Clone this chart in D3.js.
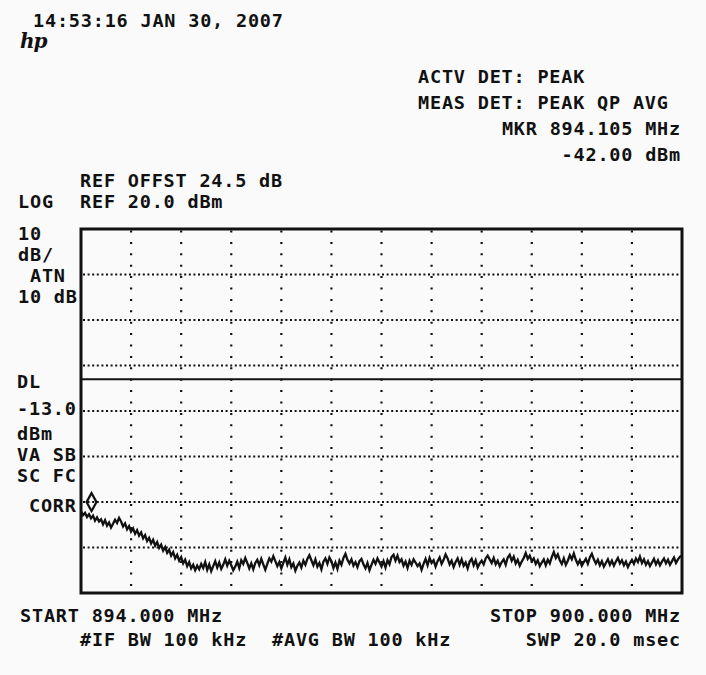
<!DOCTYPE html>
<html>
<head>
<meta charset="utf-8">
<script src="https://cdn.jsdelivr.net/npm/d3@7"></script>
<style>
  body { margin: 0; background: #fafafa; }
  svg text { font-family: "DejaVu Sans Mono", monospace; font-weight: bold; font-size: 18.5px; letter-spacing: 0.8px; fill: #111; }
</style>
</head>
<body>
<svg id="chart" width="706" height="675"></svg>
<script>
// sweep settings
const startFreq = 894.0;   // MHz
const stopFreq = 900.0;    // MHz
const refLevel = 20.0;     // dBm, top of graticule
const dbPerDiv = 10;
const displayLine = -13.0; // dBm
const markerFreq = 894.105;
const markerLevel = -42.0;

// trace, one value every 0.02 MHz
const traceDbm = [
  -42.0, -42.9, -42.4, -43.3, -42.7, -43.6, -43.0, -44.1, -43.4, -44.3,
  -43.8, -44.9, -44.0, -45.2, -44.5, -45.6, -44.8, -43.9, -44.6, -43.5,
  -44.3, -45.4, -44.7, -46.0, -45.3, -46.5, -45.8, -47.0, -46.2, -47.4,
  -46.7, -48.0, -47.3, -48.6, -47.9, -49.1, -48.3, -49.6, -48.8, -50.1,
  -49.4, -50.7, -49.9, -51.2, -50.5, -51.8, -51.0, -52.4, -51.6, -52.9,
  -52.1, -53.5, -52.7, -54.1, -53.2, -54.6, -53.8, -55.0, -54.0, -54.8,
  -53.6,
  -54.5, -53.2, -54.9, -53.7, -55.2, -54.1, -53.0, -54.4, -53.3, -54.7,
  -53.8, -52.6, -54.0, -52.9, -53.9, -55.0, -54.2, -53.1, -54.5, -52.8,
  -53.6, -52.3, -53.4, -54.6, -53.5, -54.8, -53.4, -52.7, -53.9, -52.5,
  -53.7, -54.9, -53.6, -52.4, -53.1, -51.9, -53.0, -54.1, -53.2, -54.6,
  -53.4, -52.2, -53.8, -52.6, -54.3, -53.5, -55.1, -54.0, -53.3, -54.4,
  -52.9, -53.8, -52.5, -51.7, -52.8, -53.9, -52.6, -54.2, -53.4, -54.8,
  -53.1, -52.4, -53.6, -52.2, -53.0, -54.5, -53.3, -54.7, -52.9, -53.8,
  -52.3, -51.4, -52.7, -53.5, -52.6, -54.0, -53.2, -54.3, -53.0, -52.5,
  -53.7, -54.6, -53.4, -55.0, -53.8, -52.7, -53.6, -52.4, -53.3, -54.2,
  -53.0, -54.4, -52.8, -53.7, -52.1, -51.6, -52.9, -51.8, -53.2, -52.6,
  -54.0, -53.1, -54.5, -52.9, -53.8, -52.6, -53.3, -54.1, -53.5, -54.9,
  -53.6, -52.5, -53.9, -52.3, -53.4, -52.8, -54.2, -53.0, -52.2, -53.6,
  -52.7, -51.5, -52.4, -53.7, -52.9, -54.3, -53.2, -52.4, -53.8, -52.6,
  -54.0, -53.3, -54.6, -53.1, -52.5, -53.9, -52.8, -54.4, -53.5, -52.9,
  -53.7, -52.4, -51.8, -52.6, -53.4, -52.3, -53.7, -52.9, -54.1, -53.2,
  -52.6, -53.8, -52.2, -51.6, -52.9, -52.0, -53.5, -52.7, -54.0, -53.1,
  -52.3, -51.2, -52.5, -51.8, -53.0, -52.4, -53.6, -52.8, -54.1, -53.3,
  -52.6, -53.9, -52.7, -53.5, -52.1, -51.0, -52.3, -51.5, -52.8, -53.6,
  -52.4, -53.8, -52.9, -51.7, -52.6, -51.3, -52.7, -53.7, -52.8, -54.0,
  -53.2, -52.5, -53.6, -52.2, -51.4, -52.6, -53.5, -52.7, -53.9, -53.0,
  -54.2, -53.4, -52.6, -53.8, -52.9, -54.0, -53.1, -52.3, -53.5, -52.8,
  -53.9, -53.1, -54.3, -53.4, -52.7, -53.6, -52.4, -53.2, -52.0, -53.4,
  -52.6, -53.8, -53.0, -54.1, -53.3, -52.5, -53.7, -52.8, -53.9, -53.1,
  -52.4, -53.5, -52.7, -53.8, -53.0, -52.2, -53.4, -52.6, -52.0, -51.8
];
const freqStep = 0.02;

// annotation text
const titleText = "14:53:16 JAN 30, 2007";
const headerLines = ["ACTV DET: PEAK", "MEAS DET: PEAK QP AVG", "MKR 894.105 MHz", "-42.00 dBm"];
const refLines = ["REF OFFST 24.5 dB", "REF 20.0 dBm"];
const leftLabelsTop = ["LOG", "10", "dB/", " ATN", "10 dB"];
const leftLabelsBottom = ["DL", "-13.0", "dBm", "VA SB", "SC FC", " CORR"];
const footerLeft = ["START 894.000 MHz", "#IF BW 100 kHz", "#AVG BW 100 kHz"];
const footerRight = ["STOP 900.000 MHz", "SWP 20.0 msec"];

const svg = d3.select('#chart');

// graticule box
const box = { left: 81, right: 682, top: 229, bottom: 593 };

const x = d3.scaleLinear().domain([startFreq, stopFreq]).range([box.left, box.right]);
const y = d3.scaleLinear().domain([refLevel - 8 * dbPerDiv, refLevel]).range([box.bottom, box.top]);

// dotted grid
const g = svg.append('g');
g.selectAll('.vgrid')
  .data(x.ticks(10).filter(d => d > startFreq && d < stopFreq))
  .enter().append('line')
  .attr('class', 'vgrid')
  .attr('x1', d => x(d)).attr('x2', d => x(d))
  .attr('y1', box.top + 1.5).attr('y2', box.bottom)
  .attr('stroke', '#111').attr('stroke-width', 2.2)
  .attr('stroke-dasharray', '2,9.4');

g.selectAll('.hgrid')
  .data(y.ticks(8).filter(d => d > refLevel - 80 && d < refLevel))
  .enter().append('line')
  .attr('class', 'hgrid')
  .attr('x1', box.left + 2).attr('x2', box.right)
  .attr('y1', d => y(d)).attr('y2', d => y(d))
  .attr('stroke', '#111').attr('stroke-width', 2.2)
  .attr('stroke-dasharray', '2,2.6');

// display line
g.append('line')
  .attr('x1', box.left).attr('x2', box.right)
  .attr('y1', y(displayLine)).attr('y2', y(displayLine))
  .attr('stroke', '#111').attr('stroke-width', 2);

// frame
g.append('rect')
  .attr('x', box.left).attr('y', box.top)
  .attr('width', box.right - box.left).attr('height', box.bottom - box.top)
  .attr('fill', 'none').attr('stroke', '#111').attr('stroke-width', 3);

// trace
const line = d3.line()
  .x((d, i) => x(startFreq + i * freqStep))
  .y(d => y(d));

g.append('path')
  .datum(traceDbm)
  .attr('d', line)
  .attr('fill', 'none')
  .attr('stroke', '#111')
  .attr('stroke-width', 2.3)
  .attr('stroke-linejoin', 'miter');

// marker diamond, sitting on the trace point
const mx = x(markerFreq), my = y(markerLevel);
g.append('path')
  .attr('d', `M${mx},${my} L${mx + 5},${my - 9} L${mx},${my - 18} L${mx - 5},${my - 9} Z`)
  .attr('fill', 'none').attr('stroke', '#111').attr('stroke-width', 2.2);

// text annotations
const t = svg.append('g');
t.append('text').attr('x', 33).attr('y', 27).text(titleText);
t.append('text').attr('x', 20).attr('y', 48)
  .style('font-family', '"DejaVu Serif", serif').style('font-style', 'italic')
  .style('font-size', '20px').style('letter-spacing', '-1px')
  .text('hp');

t.selectAll('.hdr').data(headerLines).enter().append('text')
  .attr('class', 'hdr')
  .attr('x', (d, i) => i < 2 ? 418 : 681)
  .attr('text-anchor', (d, i) => i < 2 ? 'start' : 'end')
  .attr('y', (d, i) => 83 + i * 26)
  .text(d => d);

t.selectAll('.ref').data(refLines).enter().append('text')
  .attr('class', 'ref')
  .attr('x', 80)
  .attr('y', (d, i) => 187 + i * 21)
  .text(d => d);

const topY = [208, 240, 261, 282, 303];
t.selectAll('.lt').data(leftLabelsTop).enter().append('text')
  .attr('class', 'lt')
  .attr('x', 18).attr('y', (d, i) => topY[i])
  .style('white-space', 'pre')
  .text(d => d);

const botY = [388, 415, 440, 461, 482, 512];
t.selectAll('.lb').data(leftLabelsBottom).enter().append('text')
  .attr('class', 'lb')
  .attr('x', 17).attr('y', (d, i) => botY[i])
  .style('white-space', 'pre')
  .text(d => d);

t.append('text').attr('x', 20).attr('y', 622).text(footerLeft[0]);
t.append('text').attr('x', 80).attr('y', 646).text(footerLeft[1]);
t.append('text').attr('x', 272).attr('y', 646).text(footerLeft[2]);
t.append('text').attr('x', 681).attr('y', 622).attr('text-anchor', 'end').text(footerRight[0]);
t.append('text').attr('x', 681).attr('y', 646).attr('text-anchor', 'end').text(footerRight[1]);
</script>
</body>
</html>
